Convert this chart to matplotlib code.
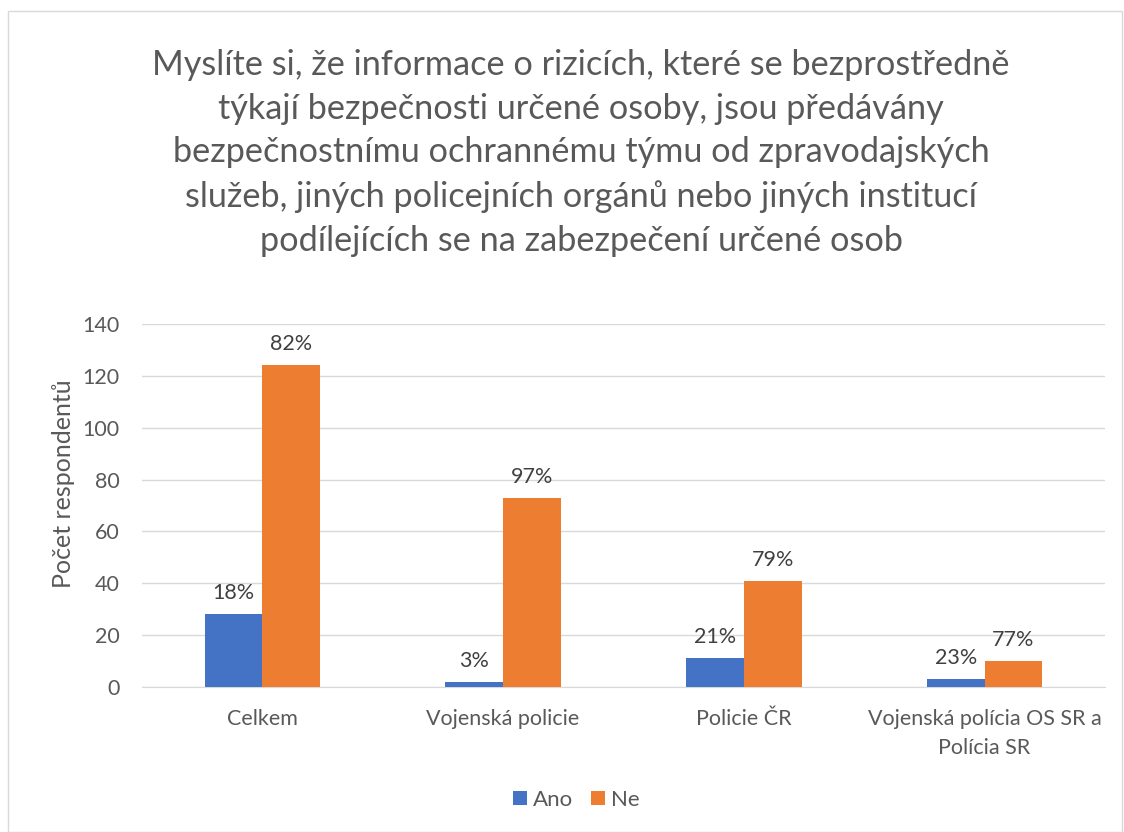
import numpy as np
import matplotlib
matplotlib.use("Agg")
import matplotlib.pyplot as plt
from matplotlib.patches import Rectangle

categories = ["Celkem", "Vojenská policie", "Policie ČR", "Vojenská polícia OS SR a\nPolícia SR"]
ano = [28, 2, 11, 3]
ne = [124, 73, 41, 10]
ano_pct = ["18%", "3%", "21%", "23%"]
ne_pct = ["82%", "97%", "79%", "77%"]
yticks = [0, 20, 40, 60, 80, 100, 120, 140]

title = ("Myslíte si, že informace o rizicích, které se bezprostředně\n"
         "týkají bezpečnosti určené osoby, jsou předávány\n"
         "bezpečnostnímu ochrannému týmu od zpravodajských\n"
         "služeb, jiných policejních orgánů nebo jiných institucí\n"
         "podílejících se na zabezpečení určené osob")

plt.rcParams['font.family'] = ['Lato', 'DejaVu Sans']

fig = plt.figure(figsize=(11.24, 8.32), dpi=100)
fig.patches.append(Rectangle((0.007, 0.0), 0.991, 0.987, transform=fig.transFigure,
                             fill=False, edgecolor="#d9d9d9", linewidth=1))

ax = fig.add_axes([142 / 1124, 1 - 687 / 832, 963 / 1124, 363 / 832])

x = np.arange(len(categories))
w = 0.24
b1 = ax.bar(x - w / 2, ano, w, color="#4472c4", label="Ano", zorder=3)
b2 = ax.bar(x + w / 2, ne, w, color="#ed7d31", label="Ne", zorder=3)

for rect, lab in zip(b1, ano_pct):
    ax.annotate(lab, (rect.get_x() + rect.get_width() / 2, rect.get_height()),
                xytext=(0, 8), textcoords="offset points", ha="center", va="bottom",
                fontsize=15.5, color="#404040")
for rect, lab in zip(b2, ne_pct):
    ax.annotate(lab, (rect.get_x() + rect.get_width() / 2, rect.get_height()),
                xytext=(0, 8), textcoords="offset points", ha="center", va="bottom",
                fontsize=15.5, color="#404040")

ax.set_xlim(-0.5, len(categories) - 0.5)
ax.set_ylim(0, 140)
ax.set_yticks(yticks)
ax.yaxis.grid(True, color="#d9d9d9", linewidth=1, zorder=0)
for s in ["top", "right", "left"]:
    ax.spines[s].set_visible(False)
ax.spines["bottom"].set_color("#d9d9d9")
ax.tick_params(axis="both", length=0, labelsize=15.5, labelcolor="#595959")
ax.tick_params(axis="y", pad=16)
ax.tick_params(axis="x", pad=16)
ax.set_xticks(x)
ax.set_xticklabels(categories, linespacing=1.55)
ax.set_ylabel("Počet respondentů", fontsize=18, color="#595959")
ax.yaxis.set_label_coords(-0.07, 0.56)

fig.text(581 / 1124, 1 - 153 / 832, title, ha="center", va="center", fontsize=24.7,
         color="#595959", linespacing=1.45)

fig.legend(handles=[b1, b2], labels=["Ano", "Ne"], loc="center", ncol=2,
           bbox_to_anchor=(0.513, 1 - 800 / 832), frameon=False, fontsize=16,
           handlelength=0.6, handleheight=0.6, handletextpad=0.3, columnspacing=0.8,
           labelcolor="#595959")

fig.savefig("out.png", dpi=100)
